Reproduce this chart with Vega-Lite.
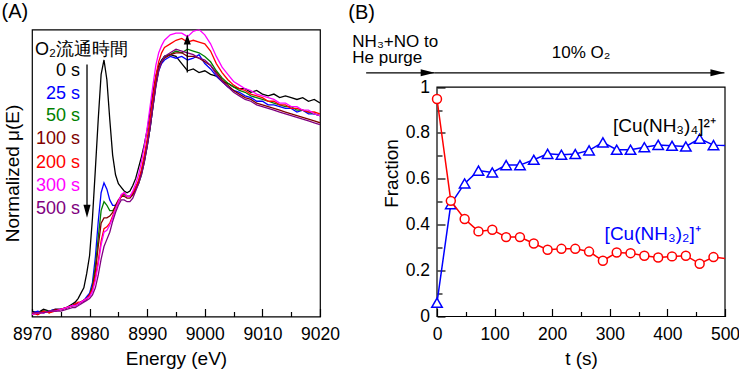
{
  "$schema": "https://vega.github.io/schema/vega-lite/v6.json",
  "background": "white",
  "padding": {"left": 0, "top": 1.5, "right": 0, "bottom": 0},
  "spacing": 7,
  "config": {
    "font": "Liberation Sans",
    "view": {"stroke": "black", "strokeWidth": 1.2},
    "axis": {"grid": false, "domain": false, "labelFont": "Liberation Sans", "labelFontSize": 17.5, "labelColor": "black", "titleFont": "Liberation Sans", "titleFontSize": 19, "titleFontWeight": 400, "titleColor": "black", "tickColor": "black", "tickWidth": 1.2, "labelFlush": false, "labelOverlap": false, "labelBound": false},
    "style": {"guide-title": {"fontWeight": 400}},
    "text": {"font": "Liberation Sans"}
  },
  "datasets": {
    "spectra": [
      {"s":"0 s","e":8970,"v":0.03},{"s":"0 s","e":8971,"v":0.02},{"s":"0 s","e":8972,"v":0.04},{"s":"0 s","e":8973,"v":0.03},{"s":"0 s","e":8974,"v":0.04},{"s":"0 s","e":8975,"v":0.04},{"s":"0 s","e":8976,"v":0.05},{"s":"0 s","e":8977,"v":0.07},{"s":"0 s","e":8977.5,"v":0.08},{"s":"0 s","e":8978,"v":0.10},{"s":"0 s","e":8978.5,"v":0.13},{"s":"0 s","e":8979,"v":0.16},{"s":"0 s","e":8979.5,"v":0.24},{"s":"0 s","e":8980,"v":0.34},{"s":"0 s","e":8980.5,"v":0.55},{"s":"0 s","e":8981,"v":0.82},{"s":"0 s","e":8981.5,"v":1.10},{"s":"0 s","e":8982,"v":1.35},{"s":"0 s","e":8982.5,"v":1.43},{"s":"0 s","e":8983,"v":1.32},{"s":"0 s","e":8983.5,"v":1.10},{"s":"0 s","e":8984,"v":0.90},{"s":"0 s","e":8984.5,"v":0.79},{"s":"0 s","e":8985,"v":0.74},{"s":"0 s","e":8985.5,"v":0.72},{"s":"0 s","e":8986,"v":0.70},{"s":"0 s","e":8986.5,"v":0.69},{"s":"0 s","e":8987,"v":0.70},{"s":"0 s","e":8987.5,"v":0.73},{"s":"0 s","e":8988,"v":0.77},{"s":"0 s","e":8988.5,"v":0.83},{"s":"0 s","e":8989,"v":0.89},{"s":"0 s","e":8989.5,"v":0.96},{"s":"0 s","e":8990,"v":1.04},{"s":"0 s","e":8990.5,"v":1.14},{"s":"0 s","e":8991,"v":1.25},{"s":"0 s","e":8991.5,"v":1.34},{"s":"0 s","e":8992,"v":1.40},{"s":"0 s","e":8992.5,"v":1.43},{"s":"0 s","e":8993,"v":1.45},{"s":"0 s","e":8994,"v":1.46},{"s":"0 s","e":8995,"v":1.45},{"s":"0 s","e":8996,"v":1.41},{"s":"0 s","e":8997,"v":1.37},{"s":"0 s","e":8998,"v":1.38},{"s":"0 s","e":8999,"v":1.36},{"s":"0 s","e":9000,"v":1.37},{"s":"0 s","e":9001,"v":1.35},{"s":"0 s","e":9002,"v":1.34},{"s":"0 s","e":9003,"v":1.31},{"s":"0 s","e":9004,"v":1.30},{"s":"0 s","e":9005,"v":1.28},{"s":"0 s","e":9006,"v":1.27},{"s":"0 s","e":9007,"v":1.27},{"s":"0 s","e":9008,"v":1.25},{"s":"0 s","e":9009,"v":1.26},{"s":"0 s","e":9010,"v":1.24},{"s":"0 s","e":9011,"v":1.23},{"s":"0 s","e":9012,"v":1.24},{"s":"0 s","e":9013,"v":1.22},{"s":"0 s","e":9014,"v":1.23},{"s":"0 s","e":9015,"v":1.22},{"s":"0 s","e":9016,"v":1.21},{"s":"0 s","e":9017,"v":1.22},{"s":"0 s","e":9018,"v":1.20},{"s":"0 s","e":9019,"v":1.21},{"s":"0 s","e":9020,"v":1.19},

      {"s":"25 s","e":8970,"v":0.02},{"s":"25 s","e":8971,"v":0.03},{"s":"25 s","e":8972,"v":0.02},{"s":"25 s","e":8973,"v":0.03},{"s":"25 s","e":8974,"v":0.04},{"s":"25 s","e":8975,"v":0.04},{"s":"25 s","e":8976,"v":0.05},{"s":"25 s","e":8977,"v":0.06},{"s":"25 s","e":8977.5,"v":0.07},{"s":"25 s","e":8978,"v":0.07},{"s":"25 s","e":8978.5,"v":0.08},{"s":"25 s","e":8979,"v":0.09},{"s":"25 s","e":8979.5,"v":0.11},{"s":"25 s","e":8980,"v":0.13},{"s":"25 s","e":8980.5,"v":0.19},{"s":"25 s","e":8981,"v":0.33},{"s":"25 s","e":8981.5,"v":0.53},{"s":"25 s","e":8982,"v":0.69},{"s":"25 s","e":8982.5,"v":0.745},{"s":"25 s","e":8983,"v":0.71},{"s":"25 s","e":8983.5,"v":0.65},{"s":"25 s","e":8984,"v":0.62},{"s":"25 s","e":8984.5,"v":0.62},{"s":"25 s","e":8985,"v":0.64},{"s":"25 s","e":8985.5,"v":0.67},{"s":"25 s","e":8986,"v":0.68},{"s":"25 s","e":8986.5,"v":0.67},{"s":"25 s","e":8987,"v":0.67},{"s":"25 s","e":8987.5,"v":0.69},{"s":"25 s","e":8988,"v":0.72},{"s":"25 s","e":8988.5,"v":0.75},{"s":"25 s","e":8989,"v":0.80},{"s":"25 s","e":8989.5,"v":0.87},{"s":"25 s","e":8990,"v":0.95},{"s":"25 s","e":8990.5,"v":1.05},{"s":"25 s","e":8991,"v":1.17},{"s":"25 s","e":8991.5,"v":1.29},{"s":"25 s","e":8992,"v":1.37},{"s":"25 s","e":8992.5,"v":1.41},{"s":"25 s","e":8993,"v":1.43},{"s":"25 s","e":8994,"v":1.45},{"s":"25 s","e":8995,"v":1.44},{"s":"25 s","e":8996,"v":1.45},{"s":"25 s","e":8997,"v":1.43},{"s":"25 s","e":8998,"v":1.44},{"s":"25 s","e":8999,"v":1.46},{"s":"25 s","e":9000,"v":1.41},{"s":"25 s","e":9001,"v":1.38},{"s":"25 s","e":9002,"v":1.34},{"s":"25 s","e":9003,"v":1.31},{"s":"25 s","e":9004,"v":1.28},{"s":"25 s","e":9005,"v":1.26},{"s":"25 s","e":9006,"v":1.25},{"s":"25 s","e":9007,"v":1.23},{"s":"25 s","e":9008,"v":1.22},{"s":"25 s","e":9009,"v":1.20},{"s":"25 s","e":9010,"v":1.20},{"s":"25 s","e":9011,"v":1.18},{"s":"25 s","e":9012,"v":1.18},{"s":"25 s","e":9013,"v":1.17},{"s":"25 s","e":9014,"v":1.16},{"s":"25 s","e":9015,"v":1.16},{"s":"25 s","e":9016,"v":1.14},{"s":"25 s","e":9017,"v":1.15},{"s":"25 s","e":9018,"v":1.13},{"s":"25 s","e":9019,"v":1.13},{"s":"25 s","e":9020,"v":1.12},

      {"s":"50 s","e":8970,"v":0.01},{"s":"50 s","e":8971,"v":0.02},{"s":"50 s","e":8972,"v":0.03},{"s":"50 s","e":8973,"v":0.03},{"s":"50 s","e":8974,"v":0.03},{"s":"50 s","e":8975,"v":0.04},{"s":"50 s","e":8976,"v":0.05},{"s":"50 s","e":8977,"v":0.06},{"s":"50 s","e":8977.5,"v":0.06},{"s":"50 s","e":8978,"v":0.07},{"s":"50 s","e":8978.5,"v":0.08},{"s":"50 s","e":8979,"v":0.09},{"s":"50 s","e":8979.5,"v":0.10},{"s":"50 s","e":8980,"v":0.12},{"s":"50 s","e":8980.5,"v":0.17},{"s":"50 s","e":8981,"v":0.28},{"s":"50 s","e":8981.5,"v":0.44},{"s":"50 s","e":8982,"v":0.59},{"s":"50 s","e":8982.5,"v":0.64},{"s":"50 s","e":8983,"v":0.62},{"s":"50 s","e":8983.5,"v":0.59},{"s":"50 s","e":8984,"v":0.59},{"s":"50 s","e":8984.5,"v":0.61},{"s":"50 s","e":8985,"v":0.64},{"s":"50 s","e":8985.5,"v":0.67},{"s":"50 s","e":8986,"v":0.68},{"s":"50 s","e":8986.5,"v":0.67},{"s":"50 s","e":8987,"v":0.67},{"s":"50 s","e":8987.5,"v":0.68},{"s":"50 s","e":8988,"v":0.71},{"s":"50 s","e":8988.5,"v":0.74},{"s":"50 s","e":8989,"v":0.79},{"s":"50 s","e":8989.5,"v":0.86},{"s":"50 s","e":8990,"v":0.95},{"s":"50 s","e":8990.5,"v":1.05},{"s":"50 s","e":8991,"v":1.17},{"s":"50 s","e":8991.5,"v":1.29},{"s":"50 s","e":8992,"v":1.38},{"s":"50 s","e":8992.5,"v":1.42},{"s":"50 s","e":8993,"v":1.45},{"s":"50 s","e":8994,"v":1.46},{"s":"50 s","e":8995,"v":1.48},{"s":"50 s","e":8996,"v":1.47},{"s":"50 s","e":8997,"v":1.49},{"s":"50 s","e":8998,"v":1.48},{"s":"50 s","e":8999,"v":1.47},{"s":"50 s","e":9000,"v":1.45},{"s":"50 s","e":9001,"v":1.42},{"s":"50 s","e":9002,"v":1.37},{"s":"50 s","e":9003,"v":1.33},{"s":"50 s","e":9004,"v":1.30},{"s":"50 s","e":9005,"v":1.28},{"s":"50 s","e":9006,"v":1.26},{"s":"50 s","e":9007,"v":1.25},{"s":"50 s","e":9008,"v":1.23},{"s":"50 s","e":9009,"v":1.22},{"s":"50 s","e":9010,"v":1.21},{"s":"50 s","e":9011,"v":1.20},{"s":"50 s","e":9012,"v":1.19},{"s":"50 s","e":9013,"v":1.18},{"s":"50 s","e":9014,"v":1.17},{"s":"50 s","e":9015,"v":1.17},{"s":"50 s","e":9016,"v":1.15},{"s":"50 s","e":9017,"v":1.15},{"s":"50 s","e":9018,"v":1.14},{"s":"50 s","e":9019,"v":1.13},{"s":"50 s","e":9020,"v":1.12},

      {"s":"100 s","e":8970,"v":0.02},{"s":"100 s","e":8971,"v":0.02},{"s":"100 s","e":8972,"v":0.03},{"s":"100 s","e":8973,"v":0.02},{"s":"100 s","e":8974,"v":0.04},{"s":"100 s","e":8975,"v":0.04},{"s":"100 s","e":8976,"v":0.05},{"s":"100 s","e":8977,"v":0.06},{"s":"100 s","e":8977.5,"v":0.07},{"s":"100 s","e":8978,"v":0.07},{"s":"100 s","e":8978.5,"v":0.08},{"s":"100 s","e":8979,"v":0.09},{"s":"100 s","e":8979.5,"v":0.10},{"s":"100 s","e":8980,"v":0.12},{"s":"100 s","e":8980.5,"v":0.16},{"s":"100 s","e":8981,"v":0.25},{"s":"100 s","e":8981.5,"v":0.39},{"s":"100 s","e":8982,"v":0.52},{"s":"100 s","e":8982.5,"v":0.55},{"s":"100 s","e":8983,"v":0.55},{"s":"100 s","e":8983.5,"v":0.56},{"s":"100 s","e":8984,"v":0.58},{"s":"100 s","e":8984.5,"v":0.62},{"s":"100 s","e":8985,"v":0.65},{"s":"100 s","e":8985.5,"v":0.67},{"s":"100 s","e":8986,"v":0.67},{"s":"100 s","e":8986.5,"v":0.66},{"s":"100 s","e":8987,"v":0.66},{"s":"100 s","e":8987.5,"v":0.68},{"s":"100 s","e":8988,"v":0.71},{"s":"100 s","e":8988.5,"v":0.75},{"s":"100 s","e":8989,"v":0.80},{"s":"100 s","e":8989.5,"v":0.87},{"s":"100 s","e":8990,"v":0.96},{"s":"100 s","e":8990.5,"v":1.06},{"s":"100 s","e":8991,"v":1.18},{"s":"100 s","e":8991.5,"v":1.30},{"s":"100 s","e":8992,"v":1.38},{"s":"100 s","e":8992.5,"v":1.42},{"s":"100 s","e":8993,"v":1.44},{"s":"100 s","e":8994,"v":1.46},{"s":"100 s","e":8995,"v":1.47},{"s":"100 s","e":8996,"v":1.47},{"s":"100 s","e":8997,"v":1.45},{"s":"100 s","e":8998,"v":1.45},{"s":"100 s","e":8999,"v":1.44},{"s":"100 s","e":9000,"v":1.42},{"s":"100 s","e":9001,"v":1.40},{"s":"100 s","e":9002,"v":1.36},{"s":"100 s","e":9003,"v":1.32},{"s":"100 s","e":9004,"v":1.29},{"s":"100 s","e":9005,"v":1.26},{"s":"100 s","e":9006,"v":1.24},{"s":"100 s","e":9007,"v":1.22},{"s":"100 s","e":9008,"v":1.21},{"s":"100 s","e":9009,"v":1.19},{"s":"100 s","e":9010,"v":1.18},{"s":"100 s","e":9011,"v":1.17},{"s":"100 s","e":9012,"v":1.16},{"s":"100 s","e":9013,"v":1.15},{"s":"100 s","e":9014,"v":1.14},{"s":"100 s","e":9015,"v":1.13},{"s":"100 s","e":9016,"v":1.12},{"s":"100 s","e":9017,"v":1.11},{"s":"100 s","e":9018,"v":1.10},{"s":"100 s","e":9019,"v":1.09},{"s":"100 s","e":9020,"v":1.08},

      {"s":"200 s","e":8970,"v":0.02},{"s":"200 s","e":8971,"v":0.01},{"s":"200 s","e":8972,"v":0.03},{"s":"200 s","e":8973,"v":0.02},{"s":"200 s","e":8974,"v":0.03},{"s":"200 s","e":8975,"v":0.04},{"s":"200 s","e":8976,"v":0.05},{"s":"200 s","e":8977,"v":0.06},{"s":"200 s","e":8977.5,"v":0.07},{"s":"200 s","e":8978,"v":0.08},{"s":"200 s","e":8978.5,"v":0.08},{"s":"200 s","e":8979,"v":0.09},{"s":"200 s","e":8979.5,"v":0.10},{"s":"200 s","e":8980,"v":0.12},{"s":"200 s","e":8980.5,"v":0.15},{"s":"200 s","e":8981,"v":0.22},{"s":"200 s","e":8981.5,"v":0.31},{"s":"200 s","e":8982,"v":0.42},{"s":"200 s","e":8982.5,"v":0.49},{"s":"200 s","e":8983,"v":0.50},{"s":"200 s","e":8983.5,"v":0.52},{"s":"200 s","e":8984,"v":0.56},{"s":"200 s","e":8984.5,"v":0.60},{"s":"200 s","e":8985,"v":0.64},{"s":"200 s","e":8985.5,"v":0.67},{"s":"200 s","e":8986,"v":0.69},{"s":"200 s","e":8986.5,"v":0.67},{"s":"200 s","e":8987,"v":0.67},{"s":"200 s","e":8987.5,"v":0.69},{"s":"200 s","e":8988,"v":0.72},{"s":"200 s","e":8988.5,"v":0.76},{"s":"200 s","e":8989,"v":0.82},{"s":"200 s","e":8989.5,"v":0.90},{"s":"200 s","e":8990,"v":0.99},{"s":"200 s","e":8990.5,"v":1.10},{"s":"200 s","e":8991,"v":1.22},{"s":"200 s","e":8991.5,"v":1.34},{"s":"200 s","e":8992,"v":1.42},{"s":"200 s","e":8992.5,"v":1.47},{"s":"200 s","e":8993,"v":1.50},{"s":"200 s","e":8994,"v":1.52},{"s":"200 s","e":8995,"v":1.54},{"s":"200 s","e":8996,"v":1.55},{"s":"200 s","e":8997,"v":1.53},{"s":"200 s","e":8998,"v":1.54},{"s":"200 s","e":8999,"v":1.53},{"s":"200 s","e":9000,"v":1.52},{"s":"200 s","e":9001,"v":1.48},{"s":"200 s","e":9002,"v":1.41},{"s":"200 s","e":9003,"v":1.36},{"s":"200 s","e":9004,"v":1.32},{"s":"200 s","e":9005,"v":1.29},{"s":"200 s","e":9006,"v":1.27},{"s":"200 s","e":9007,"v":1.26},{"s":"200 s","e":9008,"v":1.24},{"s":"200 s","e":9009,"v":1.23},{"s":"200 s","e":9010,"v":1.22},{"s":"200 s","e":9011,"v":1.20},{"s":"200 s","e":9012,"v":1.20},{"s":"200 s","e":9013,"v":1.18},{"s":"200 s","e":9014,"v":1.18},{"s":"200 s","e":9015,"v":1.16},{"s":"200 s","e":9016,"v":1.16},{"s":"200 s","e":9017,"v":1.15},{"s":"200 s","e":9018,"v":1.14},{"s":"200 s","e":9019,"v":1.14},{"s":"200 s","e":9020,"v":1.13},

      {"s":"300 s","e":8970,"v":0.01},{"s":"300 s","e":8971,"v":0.02},{"s":"300 s","e":8972,"v":0.02},{"s":"300 s","e":8973,"v":0.03},{"s":"300 s","e":8974,"v":0.03},{"s":"300 s","e":8975,"v":0.04},{"s":"300 s","e":8976,"v":0.05},{"s":"300 s","e":8977,"v":0.06},{"s":"300 s","e":8977.5,"v":0.06},{"s":"300 s","e":8978,"v":0.07},{"s":"300 s","e":8978.5,"v":0.08},{"s":"300 s","e":8979,"v":0.09},{"s":"300 s","e":8979.5,"v":0.10},{"s":"300 s","e":8980,"v":0.11},{"s":"300 s","e":8980.5,"v":0.14},{"s":"300 s","e":8981,"v":0.20},{"s":"300 s","e":8981.5,"v":0.29},{"s":"300 s","e":8982,"v":0.40},{"s":"300 s","e":8982.5,"v":0.47},{"s":"300 s","e":8983,"v":0.48},{"s":"300 s","e":8983.5,"v":0.51},{"s":"300 s","e":8984,"v":0.55},{"s":"300 s","e":8984.5,"v":0.60},{"s":"300 s","e":8985,"v":0.64},{"s":"300 s","e":8985.5,"v":0.68},{"s":"300 s","e":8986,"v":0.69},{"s":"300 s","e":8986.5,"v":0.67},{"s":"300 s","e":8987,"v":0.67},{"s":"300 s","e":8987.5,"v":0.70},{"s":"300 s","e":8988,"v":0.74},{"s":"300 s","e":8988.5,"v":0.79},{"s":"300 s","e":8989,"v":0.86},{"s":"300 s","e":8989.5,"v":0.95},{"s":"300 s","e":8990,"v":1.05},{"s":"300 s","e":8990.5,"v":1.17},{"s":"300 s","e":8991,"v":1.29},{"s":"300 s","e":8991.5,"v":1.40},{"s":"300 s","e":8992,"v":1.47},{"s":"300 s","e":8992.5,"v":1.51},{"s":"300 s","e":8993,"v":1.54},{"s":"300 s","e":8994,"v":1.57},{"s":"300 s","e":8995,"v":1.58},{"s":"300 s","e":8996,"v":1.58},{"s":"300 s","e":8997,"v":1.56},{"s":"300 s","e":8998,"v":1.59},{"s":"300 s","e":8999,"v":1.60},{"s":"300 s","e":9000,"v":1.57},{"s":"300 s","e":9001,"v":1.52},{"s":"300 s","e":9002,"v":1.45},{"s":"300 s","e":9003,"v":1.39},{"s":"300 s","e":9004,"v":1.35},{"s":"300 s","e":9005,"v":1.31},{"s":"300 s","e":9006,"v":1.29},{"s":"300 s","e":9007,"v":1.27},{"s":"300 s","e":9008,"v":1.26},{"s":"300 s","e":9009,"v":1.24},{"s":"300 s","e":9010,"v":1.23},{"s":"300 s","e":9011,"v":1.22},{"s":"300 s","e":9012,"v":1.21},{"s":"300 s","e":9013,"v":1.19},{"s":"300 s","e":9014,"v":1.19},{"s":"300 s","e":9015,"v":1.17},{"s":"300 s","e":9016,"v":1.17},{"s":"300 s","e":9017,"v":1.15},{"s":"300 s","e":9018,"v":1.15},{"s":"300 s","e":9019,"v":1.13},{"s":"300 s","e":9020,"v":1.12},

      {"s":"500 s","e":8970,"v":0.02},{"s":"500 s","e":8971,"v":0.02},{"s":"500 s","e":8972,"v":0.02},{"s":"500 s","e":8973,"v":0.03},{"s":"500 s","e":8974,"v":0.03},{"s":"500 s","e":8975,"v":0.03},{"s":"500 s","e":8976,"v":0.04},{"s":"500 s","e":8977,"v":0.05},{"s":"500 s","e":8977.5,"v":0.05},{"s":"500 s","e":8978,"v":0.06},{"s":"500 s","e":8978.5,"v":0.07},{"s":"500 s","e":8979,"v":0.08},{"s":"500 s","e":8979.5,"v":0.09},{"s":"500 s","e":8980,"v":0.10},{"s":"500 s","e":8980.5,"v":0.12},{"s":"500 s","e":8981,"v":0.16},{"s":"500 s","e":8981.5,"v":0.23},{"s":"500 s","e":8982,"v":0.32},{"s":"500 s","e":8982.5,"v":0.39},{"s":"500 s","e":8983,"v":0.43},{"s":"500 s","e":8983.5,"v":0.47},{"s":"500 s","e":8984,"v":0.53},{"s":"500 s","e":8984.5,"v":0.58},{"s":"500 s","e":8985,"v":0.62},{"s":"500 s","e":8985.5,"v":0.65},{"s":"500 s","e":8986,"v":0.65},{"s":"500 s","e":8986.5,"v":0.64},{"s":"500 s","e":8987,"v":0.64},{"s":"500 s","e":8987.5,"v":0.66},{"s":"500 s","e":8988,"v":0.70},{"s":"500 s","e":8988.5,"v":0.74},{"s":"500 s","e":8989,"v":0.79},{"s":"500 s","e":8989.5,"v":0.86},{"s":"500 s","e":8990,"v":0.95},{"s":"500 s","e":8990.5,"v":1.05},{"s":"500 s","e":8991,"v":1.17},{"s":"500 s","e":8991.5,"v":1.28},{"s":"500 s","e":8992,"v":1.37},{"s":"500 s","e":8992.5,"v":1.42},{"s":"500 s","e":8993,"v":1.45},{"s":"500 s","e":8994,"v":1.47},{"s":"500 s","e":8995,"v":1.49},{"s":"500 s","e":8996,"v":1.48},{"s":"500 s","e":8997,"v":1.47},{"s":"500 s","e":8998,"v":1.46},{"s":"500 s","e":8999,"v":1.44},{"s":"500 s","e":9000,"v":1.43},{"s":"500 s","e":9001,"v":1.40},{"s":"500 s","e":9002,"v":1.35},{"s":"500 s","e":9003,"v":1.31},{"s":"500 s","e":9004,"v":1.28},{"s":"500 s","e":9005,"v":1.25},{"s":"500 s","e":9006,"v":1.23},{"s":"500 s","e":9007,"v":1.21},{"s":"500 s","e":9008,"v":1.20},{"s":"500 s","e":9009,"v":1.18},{"s":"500 s","e":9010,"v":1.17},{"s":"500 s","e":9011,"v":1.16},{"s":"500 s","e":9012,"v":1.15},{"s":"500 s","e":9013,"v":1.14},{"s":"500 s","e":9014,"v":1.13},{"s":"500 s","e":9015,"v":1.12},{"s":"500 s","e":9016,"v":1.11},{"s":"500 s","e":9017,"v":1.10},{"s":"500 s","e":9018,"v":1.09},{"s":"500 s","e":9019,"v":1.08},{"s":"500 s","e":9020,"v":1.07}
    ],
    "frac": [
      {"sp":"Cu4","t":0,"f":0.06},{"sp":"Cu4","t":24,"f":0.49},{"sp":"Cu4","t":48,"f":0.58},{"sp":"Cu4","t":72,"f":0.636},{"sp":"Cu4","t":96,"f":0.628},{"sp":"Cu4","t":120,"f":0.66},{"sp":"Cu4","t":144,"f":0.66},{"sp":"Cu4","t":168,"f":0.683},{"sp":"Cu4","t":192,"f":0.709},{"sp":"Cu4","t":216,"f":0.705},{"sp":"Cu4","t":240,"f":0.708},{"sp":"Cu4","t":264,"f":0.724},{"sp":"Cu4","t":288,"f":0.759},{"sp":"Cu4","t":312,"f":0.727},{"sp":"Cu4","t":336,"f":0.727},{"sp":"Cu4","t":360,"f":0.738},{"sp":"Cu4","t":384,"f":0.748},{"sp":"Cu4","t":408,"f":0.744},{"sp":"Cu4","t":432,"f":0.741},{"sp":"Cu4","t":456,"f":0.775},{"sp":"Cu4","t":480,"f":0.747},{"sp":"Cu4","t":504,"f":0.745},
      {"sp":"Cu2","t":0,"f":0.948},{"sp":"Cu2","t":24,"f":0.504},{"sp":"Cu2","t":48,"f":0.425},{"sp":"Cu2","t":72,"f":0.371},{"sp":"Cu2","t":96,"f":0.378},{"sp":"Cu2","t":120,"f":0.346},{"sp":"Cu2","t":144,"f":0.346},{"sp":"Cu2","t":168,"f":0.318},{"sp":"Cu2","t":192,"f":0.291},{"sp":"Cu2","t":216,"f":0.295},{"sp":"Cu2","t":240,"f":0.295},{"sp":"Cu2","t":264,"f":0.283},{"sp":"Cu2","t":288,"f":0.243},{"sp":"Cu2","t":312,"f":0.279},{"sp":"Cu2","t":336,"f":0.276},{"sp":"Cu2","t":360,"f":0.265},{"sp":"Cu2","t":384,"f":0.257},{"sp":"Cu2","t":408,"f":0.262},{"sp":"Cu2","t":432,"f":0.265},{"sp":"Cu2","t":456,"f":0.230},{"sp":"Cu2","t":480,"f":0.259},{"sp":"Cu2","t":504,"f":0.252}
    ]
  },
  "hconcat": [
    {
      "width": 288,
      "height": 287,
      "encoding": {
        "x": {"field": "e", "type": "quantitative", "scale": {"domain": [8970, 9020], "nice": false, "zero": false},
          "axis": {"title": "Energy (eV)", "titleFontWeight": 400, "values": [8970,8975,8980,8985,8990,8995,9000,9005,9010,9015,9020], "format": "d", "labelExpr": "datum.value % 10 == 0 ? datum.label : ''", "tickSize": {"condition": {"test": "datum.value % 10 == 0", "value": -8}, "value": -5}, "labelPadding": 17, "titlePadding": 3}},
        "y": {"field": "v", "type": "quantitative", "scale": {"domain": [0, 1.6], "nice": false, "zero": false},
          "axis": {"title": "Normalized μ(E)", "titleFontWeight": 400, "labels": false, "ticks": false, "titlePadding": 10}}
      },
      "layer": [
        {
          "data": {"name": "spectra"},
          "mark": {"type": "line", "strokeWidth": 1.3, "clip": true},
          "encoding": {
            "color": {"field": "s", "type": "nominal", "legend": null,
              "scale": {"domain": ["0 s","25 s","50 s","100 s","200 s","300 s","500 s"], "range": ["#000000","#0000ff","#008000","#800000","#ff0000","#ff00ff","#800080"]}}
          }
        },
        {
          "data": {"values": [
            {"s":"0 s","e":8978.33,"v":1.339},{"s":"25 s","e":8978.33,"v":1.21},{"s":"50 s","e":8978.33,"v":1.089},{"s":"100 s","e":8978.33,"v":0.959},{"s":"200 s","e":8978.33,"v":0.829},{"s":"300 s","e":8978.33,"v":0.70},{"s":"500 s","e":8978.33,"v":0.569}
          ]},
          "mark": {"type": "text", "align": "right", "baseline": "alphabetic", "fontSize": 18},
          "encoding": {
            "text": {"field": "s"},
            "color": {"field": "s", "type": "nominal", "legend": null,
              "scale": {"domain": ["0 s","25 s","50 s","100 s","200 s","300 s","500 s"], "range": ["#000000","#0000ff","#008000","#800000","#ff0000","#ff00ff","#800080"]}}
          }
        },
        {
          "data": {"values": [{"label": "O₂流通時間", "e": 8970.52, "v": 1.46}]},
          "mark": {"type": "text", "align": "left", "baseline": "alphabetic", "fontSize": 18, "color": "black"},
          "encoding": {"text": {"field": "label"}}
        },
        {
          "data": {"values": [{"label": "(A)", "e": 8964.7, "v": 1.662}]},
          "mark": {"type": "text", "align": "left", "baseline": "alphabetic", "fontSize": 20, "color": "black"},
          "encoding": {"text": {"field": "label"}}
        },
        {
          "data": {"values": [
            {"e": 8979.55, "v": 1.405, "v2": 0.6},
            {"e": 8996.96, "v": 1.36, "v2": 1.55}
          ]},
          "mark": {"type": "rule", "color": "black", "strokeWidth": 1.3},
          "encoding": {"y2": {"field": "v2"}}
        },
        {
          "data": {"values": [{"e": 8979.55, "v": 0.55}]},
          "mark": {"type": "point", "shape": "M0,0L-0.55,-2L0.55,-2Z", "size": 169, "filled": true, "color": "black", "opacity": 1, "strokeWidth": 0},
          "encoding": {}
        },
        {
          "data": {"values": [{"e": 8996.96, "v": 1.572}]},
          "mark": {"type": "point", "shape": "M0,0L-0.7,2L0.7,2Z", "size": 100, "filled": true, "color": "black", "opacity": 1, "strokeWidth": 0},
          "encoding": {}
        }
      ]
    },
    {
      "width": 288,
      "height": 287,
      "view": {"stroke": null},
      "encoding": {
        "x": {"field": "t", "type": "quantitative", "scale": {"domain": [0, 500], "nice": false, "zero": false},
          "axis": {"title": "t (s)", "titleFontWeight": 400, "values": [0,50,100,150,200,250,300,350,400,450,500], "labelExpr": "datum.value % 100 == 0 ? datum.label : ''", "tickSize": {"condition": {"test": "datum.value % 100 == 0", "value": -8}, "value": -5}, "labelPadding": 17, "titlePadding": 3}},
        "y": {"field": "f", "type": "quantitative", "scale": {"domain": [0, 1.251], "nice": false, "zero": false},
          "axis": {"title": "Fraction", "titleFontWeight": 400, "values": [0,0.1,0.2,0.3,0.4,0.5,0.6,0.7,0.8,0.9,1], "labelExpr": "round(datum.value*10) % 2 == 0 ? format(datum.value, '~g') : ''", "tickSize": {"condition": {"test": "round(datum.value*10) % 2 == 0", "value": -8}, "value": -5}, "labelPadding": 15.4, "titlePadding": 4}}
      },
      "layer": [
        {
          "data": {"values": [{"t": 0, "t2": 500, "f": 0, "f2": 1}]},
          "mark": {"type": "rect", "fill": null, "fillOpacity": 0, "stroke": "black", "strokeWidth": 1.2},
          "encoding": {"x2": {"field": "t2"}, "y2": {"field": "f2"}}
        },
        {
          "data": {"name": "frac"},
          "transform": [{"filter": "datum.sp == 'Cu4'"}],
          "mark": {"type": "line", "color": "#0000ff", "strokeWidth": 1.5, "clip": true},
          "encoding": {}
        },
        {
          "data": {"name": "frac"},
          "transform": [{"filter": "datum.sp == 'Cu4' && datum.t <= 480"}],
          "mark": {"type": "point", "shape": "triangle-up", "size": 110, "filled": true, "fill": "white", "stroke": "#0000ff", "strokeWidth": 1.5, "opacity": 1},
          "encoding": {}
        },
        {
          "data": {"name": "frac"},
          "transform": [{"filter": "datum.sp == 'Cu2'"}],
          "mark": {"type": "line", "color": "#ff0000", "strokeWidth": 1.5, "clip": true},
          "encoding": {}
        },
        {
          "data": {"name": "frac"},
          "transform": [{"filter": "datum.sp == 'Cu2' && datum.t <= 480"}],
          "mark": {"type": "point", "shape": "circle", "size": 80, "filled": true, "fill": "white", "stroke": "#ff0000", "strokeWidth": 1.5, "opacity": 1},
          "encoding": {}
        },
        {
          "data": {"values": [
            {"label": "[Cu(NH₃)₄]²⁺", "t": 305.6, "f": 0.805},
            {"label": "[Cu(NH₃)₂]⁺", "t": 291, "f": 0.334}
          ]},
          "mark": {"type": "text", "align": "left", "baseline": "alphabetic", "fontSize": 19},
          "encoding": {
            "text": {"field": "label"},
            "color": {"field": "label", "type": "nominal", "legend": null, "scale": {"domain": ["[Cu(NH₃)₄]²⁺", "[Cu(NH₃)₂]⁺"], "range": ["#0000ff", "#ff0000"]}}
          }
        },
        {
          "data": {"values": [
            {"t": -123, "t2": -4, "f": 1.062},
            {"t": -4, "t2": 499, "f": 1.062}
          ]},
          "mark": {"type": "rule", "color": "black", "strokeWidth": 1.3},
          "encoding": {"x2": {"field": "t2"}}
        },
        {
          "data": {"values": [{"t": -4, "f": 1.062}, {"t": 499, "f": 1.062}]},
          "mark": {"type": "point", "shape": "M0,0L-2,-0.5L-2,0.5Z", "size": 196, "filled": true, "color": "black", "opacity": 1, "strokeWidth": 0},
          "encoding": {}
        },
        {
          "data": {"values": [
            {"label": ["NH₃+NO to", "He purge"], "t": -147, "f": 1.173}
          ]},
          "mark": {"type": "text", "align": "left", "baseline": "alphabetic", "fontSize": 17, "lineHeight": 15.6, "color": "black"},
          "encoding": {"text": {"field": "label"}}
        },
        {
          "data": {"values": [{"label": "(B)", "t": -154, "f": 1.298}]},
          "mark": {"type": "text", "align": "left", "baseline": "alphabetic", "fontSize": 20, "color": "black"},
          "encoding": {"text": {"field": "label"}}
        },
        {
          "data": {"values": [{"label": "10% O₂", "t": 250, "f": 1.126}]},
          "mark": {"type": "text", "align": "center", "baseline": "alphabetic", "fontSize": 17, "color": "black"},
          "encoding": {"text": {"field": "label"}}
        }
      ]
    }
  ]
}
